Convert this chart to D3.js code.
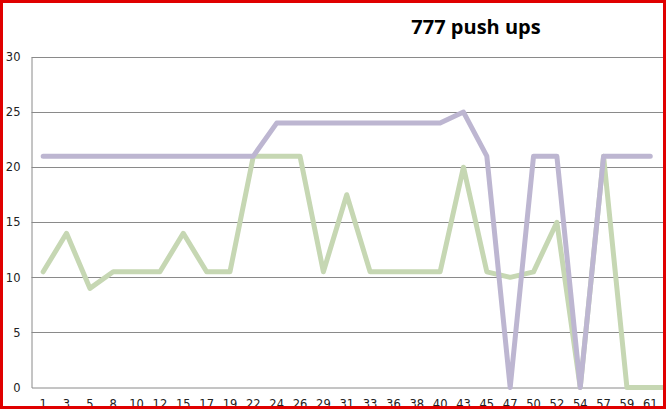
<!DOCTYPE html>
<html>
<head>
<meta charset="utf-8">
<title>777 push ups</title>
<script src="https://cdn.jsdelivr.net/npm/d3@7"></script>
<style>
    body { margin: 0; background: #fff; }
    svg { display: block; }
</style>
</head>
<body>
<svg id="chart" width="666" height="410"></svg>
<script>
// day numbers on the x axis (64 is off the right edge of the picture)
var days = [1, 3, 5, 8, 10, 12, 15, 17, 19, 22, 24, 26, 29, 31, 33, 36, 38, 40, 43, 45, 47, 50, 52, 54, 57, 59, 61, 64];
var seriesA = [21, 21, 21, 21, 21, 21, 21, 21, 21, 21, 24, 24, 24, 24, 24, 24, 24, 24, 25, 21, 0, 21, 21, 0, 21, 21, 21, null];
var seriesB = [10.5, 14, 9, 10.5, 10.5, 10.5, 14, 10.5, 10.5, 21, 21, 21, 10.5, 17.5, 10.5, 10.5, 10.5, 10.5, 20, 10.5, 10, 10.5, 15, 0, 21, 0, 0, 0];
var yTicks = [0, 5, 10, 15, 20, 25, 30];

var svg = d3.select("#chart");
var W = 666;
var plotLeft = 31.5, plotTop = 57, plotBottom = 387.5;
var step = 23.35;
var plotRight = plotLeft + step * days.length;

var x = d3.scaleBand().domain(days).range([plotLeft, plotRight]);
var y = d3.scaleLinear().domain([0, 30]).range([plotBottom, plotTop]);

// gridlines
svg.append("g")
    .selectAll("line")
    .data(yTicks.filter(function(d) { return d > 0; }))
    .enter().append("line")
    .attr("x1", plotLeft).attr("x2", plotRight)
    .attr("y1", function(d) { return Math.round(y(d)) + 0.5; })
    .attr("y2", function(d) { return Math.round(y(d)) + 0.5; })
    .attr("stroke", "#8a8a8a").attr("stroke-width", 1);

// y axis
var yAxis = svg.append("g")
    .attr("transform", "translate(" + plotLeft + ",0)")
    .call(d3.axisLeft(y).tickValues(yTicks).tickSize(0).tickPadding(11));
yAxis.select(".domain").attr("stroke", "#8a8a8a");
yAxis.selectAll("text")
    .attr("font-family", "DejaVu Sans, Verdana, sans-serif")
    .attr("font-size", "11.5px")
    .attr("fill", "#222");

// x axis: only label the days that fit inside the window
var visibleDays = days.filter(function(d) { return x(d) + x.bandwidth() / 2 < W - 8; });
var xAxis = svg.append("g")
    .attr("transform", "translate(0," + plotBottom + ")")
    .call(d3.axisBottom(x).tickValues(visibleDays).tickSize(0).tickPadding(12));
xAxis.select(".domain").attr("stroke", "#8a8a8a");
xAxis.selectAll("text")
    .attr("font-family", "DejaVu Sans, Verdana, sans-serif")
    .attr("font-size", "11.5px")
    .attr("fill", "#222");

var line = d3.line()
    .defined(function(d) { return d[1] != null; })
    .x(function(d) { return x(d[0]) + x.bandwidth() / 2; })
    .y(function(d) { return y(d[1]); });

svg.append("path")
    .datum(days.map(function(d, i) { return [d, seriesB[i]]; }))
    .attr("d", line)
    .attr("fill", "none")
    .attr("stroke", "#c6d7b3")
    .attr("stroke-width", 5)
    .attr("stroke-linejoin", "round")
    .attr("stroke-linecap", "round");

svg.append("path")
    .datum(days.map(function(d, i) { return [d, seriesA[i]]; }))
    .attr("d", line)
    .attr("fill", "none")
    .attr("stroke", "#bdb6d1")
    .attr("stroke-width", 5)
    .attr("stroke-linejoin", "round")
    .attr("stroke-linecap", "round");

// title
svg.append("text")
    .attr("x", 476).attr("y", 34)
    .attr("text-anchor", "middle")
    .attr("font-family", "Open Sans, Noto Sans, sans-serif")
    .attr("font-weight", "bold")
    .attr("font-size", "20px")
    .attr("fill", "#000")
    .text("777 push ups");

// red screenshot frame
svg.append("rect")
    .attr("x", 1.5).attr("y", 1.5)
    .attr("width", 663).attr("height", 406)
    .attr("fill", "none")
    .attr("stroke", "#e00000")
    .attr("stroke-width", 3);
</script>
</body>
</html>
